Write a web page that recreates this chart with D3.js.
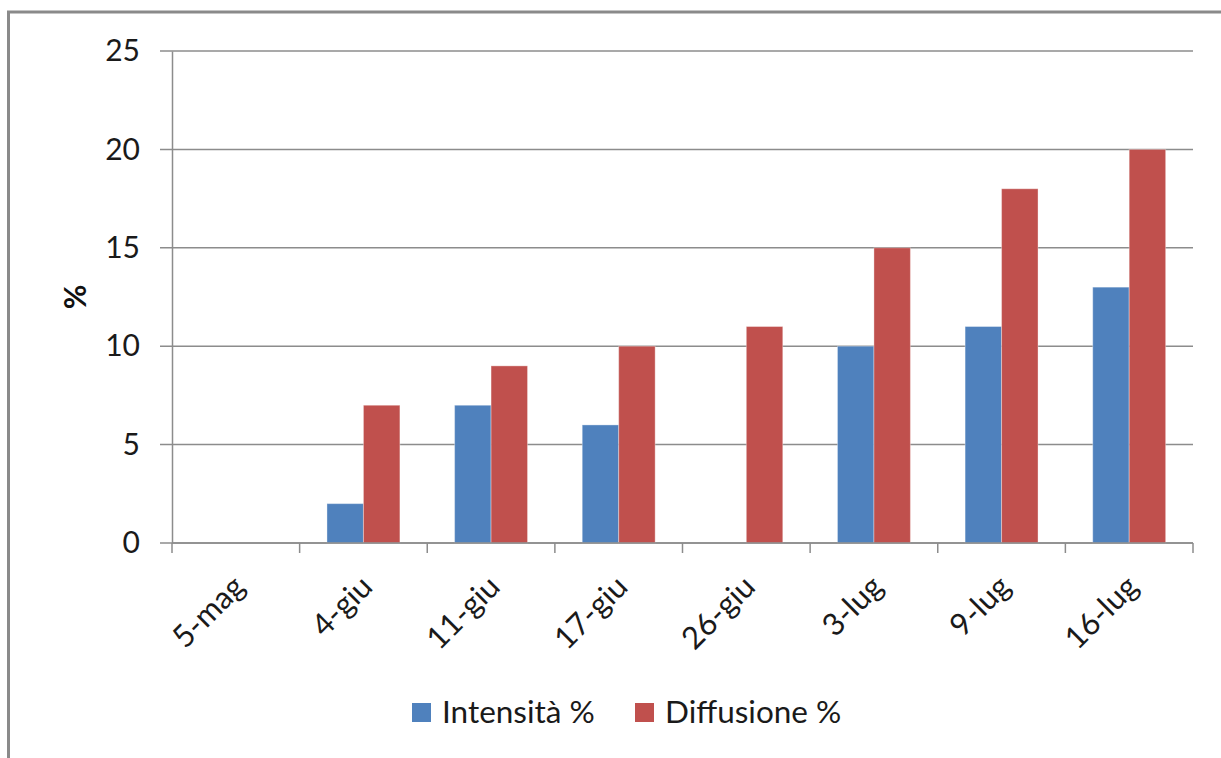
<!DOCTYPE html>
<html><head><meta charset="utf-8">
<script src="https://cdn.jsdelivr.net/npm/d3@7"></script>
<style>body{margin:0;background:#fff;} svg{display:block;font-family:Lato, "Open Sans", sans-serif;}</style>
</head><body>
<svg id="c" width="1221" height="758"></svg>
<script>
const categories = ["5-mag","4-giu","11-giu","17-giu","26-giu","3-lug","9-lug","16-lug"];
const intensita = [0,2,7,6,0,10,11,13];
const diffusione = [0,7,9,10,11,15,18,20];
const seriesNames = ["Intensità %","Diffusione %"];
const yTicks = [0,5,10,15,20,25];
const colors = ["#4F81BD","#C0504D"];

const svg = d3.select("#c");
svg.append("rect").attr("x",8.5).attr("y",12).attr("width",1230).attr("height",760)
  .attr("fill","none").attr("stroke","#8a8a8a").attr("stroke-width",3);

const L=172, R=1193, T=51, B=543;
const x = d3.scaleBand().domain(categories).range([L,R]).paddingInner(0).paddingOuter(0);
const y = d3.scaleLinear().domain([0,25]).range([B,T]);
const gx = d3.scaleBand().domain([0,1]).range([0,x.bandwidth()]).paddingInner(0).paddingOuter(0.75);

const grid = svg.append("g");
grid.selectAll("line").data(yTicks).join("line")
  .attr("x1",160).attr("x2",R).attr("y1",d=>y(d)).attr("y2",d=>y(d))
  .attr("stroke","#8c8c8c").attr("stroke-width",1.5);

const yAxis = d3.axisLeft(y).tickValues(yTicks).tickSize(0).tickPadding(0);
const ya = svg.append("g").attr("transform",`translate(${L},0)`).call(yAxis);
ya.select(".domain").attr("stroke","#8c8c8c").attr("stroke-width",1.5);
ya.selectAll("text").attr("x",-32).attr("font-size",30).attr("fill","#1a1a1a").attr("font-family","Lato, sans-serif");

const series = [intensita, diffusione];
series.forEach((vals,si)=>{
  svg.append("g").selectAll("rect").data(vals).join("rect")
    .attr("x",(d,i)=>x(categories[i])+gx(si))
    .attr("width",gx.bandwidth())
    .attr("y",d=>y(d)).attr("height",d=>y(0)-y(d))
    .attr("fill",colors[si])
    .attr("stroke",d=>d>0?"rgba(255,255,255,0.35)":"none").attr("stroke-width",1);
});

svg.append("line").attr("x1",L).attr("x2",R).attr("y1",B).attr("y2",B).attr("stroke","#8c8c8c").attr("stroke-width",1.5);
const tickPos = categories.map(c=>x(c)).concat([R]);
svg.append("g").selectAll("line").data(tickPos).join("line")
  .attr("x1",d=>d).attr("x2",d=>d).attr("y1",B).attr("y2",B+10)
  .attr("stroke","#8c8c8c").attr("stroke-width",1.5);

svg.append("g").selectAll("text").data(categories).join("text")
  .attr("transform",d=>`translate(${x(d)+x.bandwidth()/2+3},${581}) rotate(-45)`)
  .attr("text-anchor","end").attr("dy","0.35em")
  .attr("font-size",31).attr("fill","#1a1a1a").text(d=>d);

svg.append("text").attr("transform",`translate(75,297) rotate(-90)`)
  .attr("text-anchor","middle").attr("dy","0.35em").attr("font-weight","bold")
  .attr("font-size",30).attr("fill","#111").text("%");

const leg = svg.append("g");
const legX = [412,635];
seriesNames.forEach((n,i)=>{
  leg.append("rect").attr("x",legX[i]).attr("y",703).attr("width",19).attr("height",19).attr("fill",colors[i]);
  leg.append("text").attr("x",legX[i]+30).attr("y",723).attr("font-size",31.5).attr("fill","#1a1a1a").text(n);
});
</script>
</body></html>
